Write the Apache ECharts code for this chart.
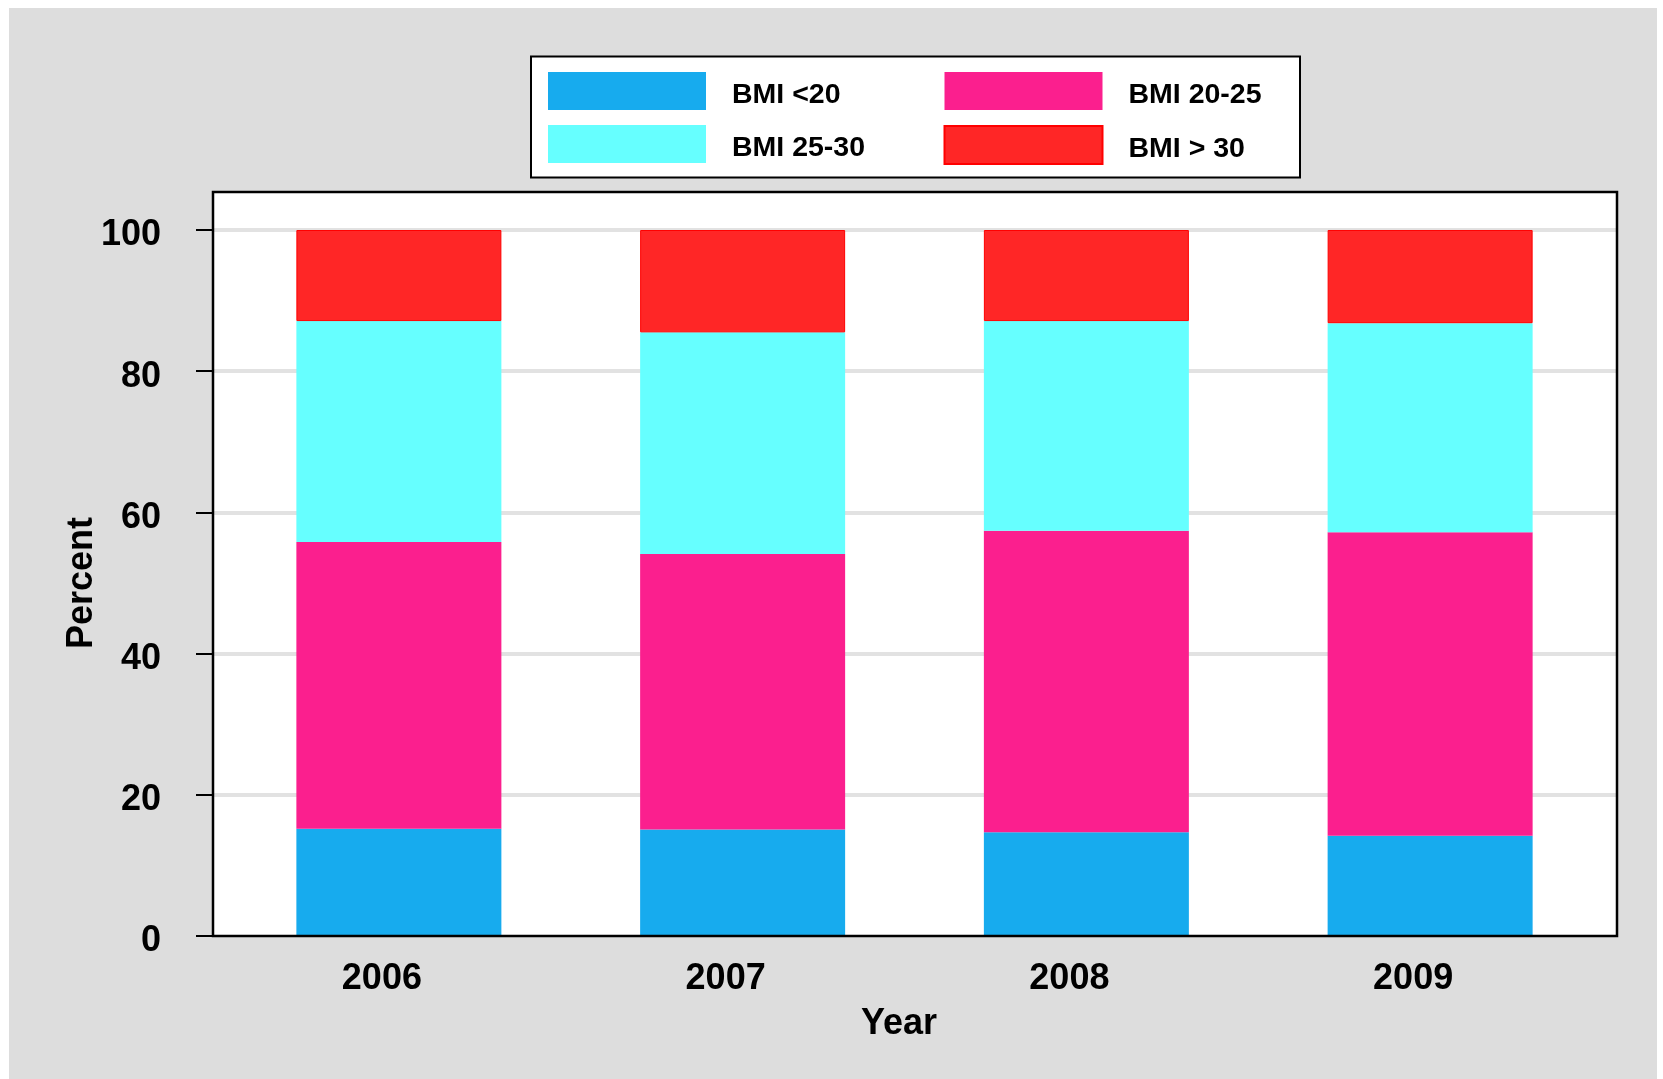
<!DOCTYPE html>
<html>
<head>
<meta charset="utf-8">
<script src="https://cdn.jsdelivr.net/npm/echarts@6/dist/echarts.min.js"></script>
<style>
  html, body { margin: 0; padding: 0; background: #ffffff; }
  #bg { position: absolute; left: 9px; top: 8px; width: 1648px; height: 1071px; background: #dddddd; }
  #chart { position: absolute; left: 0; top: 0; width: 1663px; height: 1079px; }
</style>
</head>
<body>
<div id="bg"></div>
<div id="chart"></div>
<script>
var years = ['2006', '2007', '2008', '2009'];
var bmiUnder20 = [15.2, 15.1, 14.7, 14.2];
var bmi20to25 = [40.6, 39.0, 42.7, 43.0];
var bmi25to30 = [31.3, 31.4, 29.7, 29.6];
var bmiOver30 = [12.9, 14.5, 12.9, 13.2];
var seriesNames = ['BMI <20', 'BMI 20-25', 'BMI 25-30', 'BMI > 30'];
var seriesColors = ['#17abee', '#fb1f8e', '#66ffff', '#ff2626'];

var FONT = "'Liberation Sans', Arial, Helvetica, sans-serif";
var chart = echarts.init(document.getElementById('chart'), null, { renderer: 'canvas' });

function barSeries(name, data, color, border) {
  return {
    name: name,
    type: 'bar',
    stack: 'total',
    xAxisIndex: 1,
    yAxisIndex: 1,
    barWidth: 205,
    data: data,
    itemStyle: border ? { color: color, borderColor: '#ff0000', borderWidth: 1 } : { color: color },
    emphasis: { disabled: true }
  };
}

function legendColumn(left, names) {
  return {
    left: left,
    top: 72,
    orient: 'vertical',
    itemWidth: 158,
    itemHeight: 38,
    itemGap: 15,
    padding: 0,
    selectedMode: false,
    icon: 'rect',
    formatter: function (name) { return '{t|' + name + '}'; },
    textStyle: {
      fontSize: 28.5, fontWeight: 'bold', color: '#000000', fontFamily: FONT,
      rich: { t: { fontSize: 28.5, fontWeight: 'bold', color: '#000000', fontFamily: FONT, padding: [8, 0, 0, 21] } }
    },
    data: names
  };
}

var option = {
  animation: false,
  backgroundColor: 'transparent',
  textStyle: { fontFamily: FONT },
  graphic: [
    { type: 'rect', z: -10, silent: true, shape: { x: 213, y: 192, width: 1404, height: 744 }, style: { fill: '#ffffff' } },
    { type: 'rect', z: 10, silent: true, shape: { x: 213, y: 192, width: 1404, height: 744 }, style: { fill: 'none', stroke: '#000000', lineWidth: 2.5 } },
    { type: 'rect', z: -10, silent: true, shape: { x: 531, y: 56.5, width: 769, height: 121 }, style: { fill: '#ffffff', stroke: '#000000', lineWidth: 2 } }
  ],
  legend: [
    legendColumn(548, [seriesNames[0], seriesNames[2]]),
    legendColumn(943.5, [seriesNames[1], seriesNames[3]])
  ],
  grid: [
    { left: 213, top: 230, width: 1404, bottom: 143, containLabel: false },
    { left: 227, top: 230, right: 61, bottom: 143, containLabel: false }
  ],
  xAxis: [
    { gridIndex: 0, type: 'value', show: false, min: 0, max: 1 },
    {
      gridIndex: 1,
      type: 'category',
      data: years,
      axisLine: { show: false },
      axisTick: { show: false },
      axisLabel: {
        margin: 25,
        fontSize: 36,
        fontWeight: 'bold',
        color: '#000000',
        fontFamily: FONT,
        padding: [0, 34, 0, 0]
      },
      name: 'Year',
      nameLocation: 'middle',
      nameGap: 70,
      nameMoveOverlap: false,
      nameTextStyle: { fontSize: 36, fontWeight: 'bold', color: '#000000', fontFamily: FONT, padding: [0, 31, 0, 0] }
    }
  ],
  yAxis: [
    {
      gridIndex: 0,
      type: 'value',
      min: 0,
      max: 100,
      interval: 20,
      axisLine: { show: true, lineStyle: { color: '#000000', width: 2 } },
      axisTick: { show: true, inside: false, length: 17, lineStyle: { color: '#000000', width: 2 } },
      axisLabel: {
        margin: 52,
        formatter: function (v) { return '{t|' + v + '}'; },
        rich: { t: { fontSize: 36, fontWeight: 'bold', color: '#000000', fontFamily: FONT, padding: [11, 0, 0, 0] } },
        fontSize: 36,
        fontWeight: 'bold',
        color: '#000000',
        fontFamily: FONT
      },
      splitLine: { show: true, showMinLine: false, lineStyle: { color: '#e2e2e2', width: 4 } },
      name: 'Percent',
      nameLocation: 'middle',
      nameGap: 113,
      nameMoveOverlap: false,
      nameTextStyle: { fontSize: 36, fontWeight: 'bold', color: '#000000', fontFamily: FONT }
    },
    { gridIndex: 1, type: 'value', min: 0, max: 100, show: false }
  ],
  series: [
    barSeries(seriesNames[0], bmiUnder20, seriesColors[0], false),
    barSeries(seriesNames[1], bmi20to25, seriesColors[1], false),
    barSeries(seriesNames[2], bmi25to30, seriesColors[2], false),
    barSeries(seriesNames[3], bmiOver30, seriesColors[3], true)
  ]
};
chart.setOption(option);
</script>
</body>
</html>
